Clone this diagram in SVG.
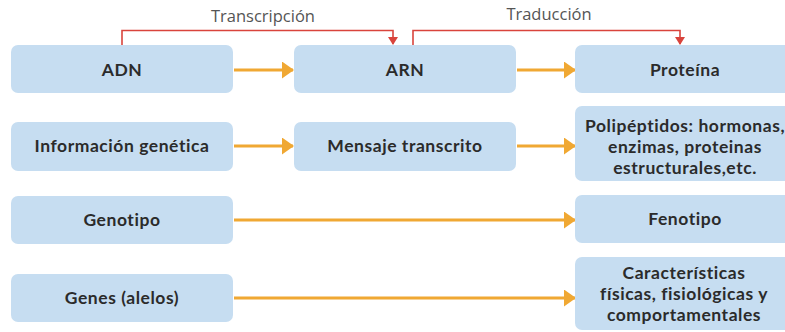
<svg xmlns="http://www.w3.org/2000/svg" width="785" height="332" viewBox="0 0 785 332">
<style>
.box{fill:#c6ddf1;}
.t{font-family:Lato,"Open Sans","Liberation Sans",sans-serif;font-size:17.5px;font-weight:700;letter-spacing:0.55px;fill:#2b2b2b;text-anchor:middle;}
.lbl{font-family:"Open Sans","Liberation Sans",sans-serif;font-size:16.5px;fill:#555;text-anchor:middle;}
.arr{stroke:#f0a833;stroke-width:3;fill:none;marker-end:url(#oa);}
.red{stroke:#d9443c;stroke-width:1.6;fill:none;marker-end:url(#ra);}
</style>
<defs>
<marker id="oa" viewBox="0 0 12 17" refX="11" refY="8.5" markerWidth="12" markerHeight="17" orient="auto" markerUnits="userSpaceOnUse"><path d="M0,0 L12,8.5 L0,17 z" fill="#f0a833"/></marker>
<marker id="ra" viewBox="0 0 8 10" refX="7" refY="5" markerWidth="8" markerHeight="10" orient="auto" markerUnits="userSpaceOnUse"><path d="M0,0 L8,5 L0,10 z" fill="#d9443c"/></marker>
</defs>
<rect width="785" height="332" fill="#fff"/>
<g id="connectors">
<path class="arr" d="M234,70 H293"/>
<path class="arr" d="M517,70 H575"/>
<path class="arr" d="M234,146 H293"/>
<path class="arr" d="M517,146 H575"/>
<path class="arr" d="M234,220 H575"/>
<path class="arr" d="M234,298 H575"/>
<path class="red" d="M122,45 V30.5 H393 V44"/>
<path class="red" d="M413,45 V30.5 H680 V44"/>
<text class="lbl" x="263" y="22">Transcripción</text>
<text class="lbl" x="549" y="20">Traducción</text>
</g>
<g id="adn"><rect class="box" x="11" y="45" width="222" height="48" rx="7"/><text class="t" x="122" y="76">ADN</text></g>
<g id="arn"><rect class="box" x="294" y="45" width="222" height="48" rx="7"/><text class="t" x="405" y="76">ARN</text></g>
<g id="proteina"><rect class="box" x="575" y="45" width="220" height="48" rx="7"/><text class="t" x="685" y="76">Proteína</text></g>
<g id="info"><rect class="box" x="11" y="122" width="222" height="49" rx="7"/><text class="t" x="122" y="152">Información genética</text></g>
<g id="mensaje"><rect class="box" x="294" y="122" width="222" height="49" rx="7"/><text class="t" x="405" y="152">Mensaje transcrito</text></g>
<g id="polipeptidos"><rect class="box" x="575" y="106" width="220" height="75" rx="7"/><text class="t" x="685" y="132">Polipéptidos: hormonas,</text><text class="t" x="685" y="153">enzimas, proteinas</text><text class="t" x="685" y="174">estructurales,etc.</text></g>
<g id="genotipo"><rect class="box" x="11" y="196" width="222" height="48" rx="7"/><text class="t" x="122" y="226">Genotipo</text></g>
<g id="fenotipo"><rect class="box" x="575" y="195" width="220" height="48" rx="7"/><text class="t" x="685" y="225">Fenotipo</text></g>
<g id="genes"><rect class="box" x="11" y="274" width="222" height="48" rx="7"/><text class="t" x="122" y="304">Genes (alelos)</text></g>
<g id="caracteristicas"><rect class="box" x="575" y="257" width="220" height="73" rx="7"/><text class="t" x="684" y="279">Características</text><text class="t" x="684" y="300">físicas, fisiológicas y</text><text class="t" x="684" y="321">comportamentales</text></g>
</svg>
